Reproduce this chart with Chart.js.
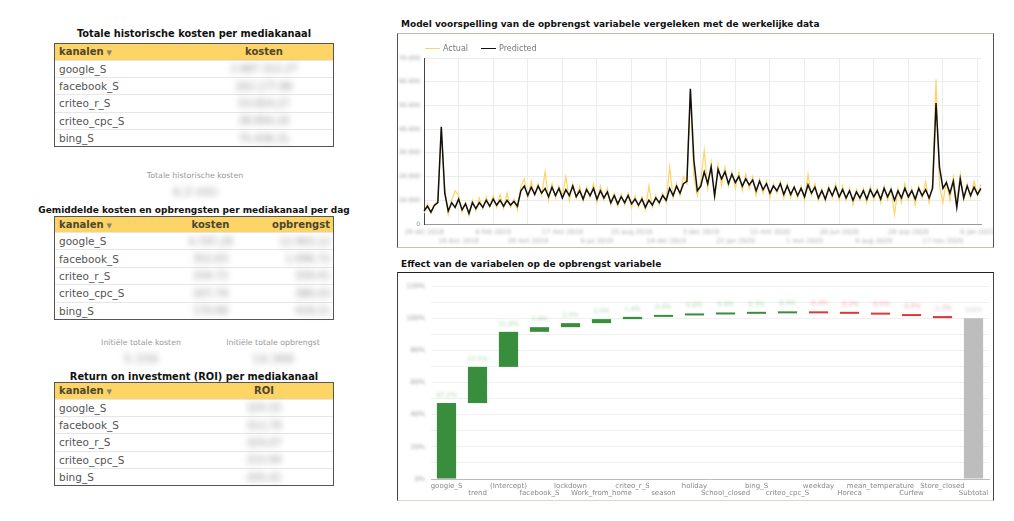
<!DOCTYPE html>
<html>
<head>
<meta charset="utf-8">
<script src="https://cdn.jsdelivr.net/npm/chart.js@4.4.0/dist/chart.umd.min.js"></script>
<style>
body { margin: 0; width: 1014px; height: 521px; background: #fff; position: relative; overflow: hidden; font-family: "DejaVu Sans", sans-serif; }
.title { position: absolute; height: 12px; line-height: 12px; font-size: 9px; font-weight: bold; color: #111; white-space: nowrap; }
.ctitle { left: 0; width: 388px; text-align: center; }
.big { font-size: 9.8px; }
.tbl { position: absolute; left: 54px; width: 280px; box-sizing: border-box; border: 1px solid #555; font-size: 10.5px; color: #555; }
.tbl .hd { display: flex; height: 15.5px; align-items: center; background: #fdd466; color: #4e4631; font-weight: bold; font-size: 10px; }
.tbl .rw { display: flex; height: 16.4px; align-items: center; border-top: 1px solid #e6e6e6; }
.tbl .cell { box-sizing: border-box; white-space: nowrap; }
.tbl .arr { font-size: 7px; color: #8a826a; margin-left: 3px; }
.blur { filter: blur(3px); color: #8c8c8c; font-size: 10px; }
.kpi { position: absolute; width: 160px; margin-left: -80px; text-align: center; white-space: nowrap; }
.kpi .lb { font-size: 7.8px; color: #999; height: 10px; line-height: 10px; }
.kpi .val { font-size: 12px; color: #999; filter: blur(3px); height: 16px; line-height: 16px; margin-top: 3px; }
.box { position: absolute; left: 397px; width: 597px; box-sizing: border-box; background: #fff; }
.wrap { position: relative; width: 100%; height: 100%; }
.legend { position: absolute; left: 425px; top: 44px; display: flex; gap: 13px; font-size: 8px; color: #777; line-height: 10px; }
.legend i { display: inline-block; width: 15px; height: 1.5px; margin-right: 3px; vertical-align: middle; }
</style>
</head>
<body>

<div class="title ctitle big" style="top:28px">Totale historische kosten per mediakanaal</div>
<div class="tbl" id="tbl1" style="top:43px"></div>
<div class="kpi" style="left:195px; top:171px"><div class="lb">Totale historische kosten</div><div class="val" id="kpiTotal"></div></div>

<div class="title ctitle" style="top:204px">Gemiddelde kosten en opbrengsten per mediakanaal per dag</div>
<div class="tbl" id="tbl2" style="top:215.5px"></div>
<div class="kpi" style="left:141px; top:338px"><div class="lb">Initiële totale kosten</div><div class="val" id="kpiCost"></div></div>
<div class="kpi" style="left:273px; top:338px"><div class="lb">Initiële totale opbrengst</div><div class="val" id="kpiRev"></div></div>

<div class="title ctitle big" style="top:371px">Return on investment (ROI) per mediakanaal</div>
<div class="tbl" id="tbl3" style="top:382px"></div>

<div class="title" style="left:401px; top:18px">Model voorspelling van de opbrengst variabele vergeleken met de werkelijke data</div>
<div class="box" style="top:33px; height:215px; border:1px solid #555; border-top-color:#c4bea8; border-bottom-color:#c9c2a6;">
  <div class="wrap"><canvas id="lineChart"></canvas></div>
</div>
<div class="legend" id="legend"></div>

<div class="title" style="left:401px; top:258px">Effect van de variabelen op de opbrengst variabele</div>
<div class="box" style="top:272px; height:229px; border:1px solid #444; border-top-color:#222; border-bottom-color:#ddd8c0;">
  <div class="wrap"><canvas id="effectChart"></canvas></div>
</div>

<script>
// left panel values (blurred in the dashboard)
const channels = ['google_S', 'facebook_S', 'criteo_r_S', 'criteo_cpc_S', 'bing_S']
const totalCosts = ['2.687.312,27', '263.177,86', '53.654,27', '38.856,16', '75.438,31']
const avgCosts = ['4.797,29', '352,63', '104,72', '207,79', '170,68']
const avgRevenue = ['12.993,12', '1.096,72', '339,41', '386,03', '418,21']
const roiValues = ['320,32', '312,79', '324,07', '222,94', '205,41']
const totalCostKpi = '4,3 mln'
const initialCostKpi = '5.334'
const initialRevenueKpi = '14.369'

// model prediction vs actual (revenue per period)
const actual = [4500, 8500, 4500, 8500, 9500, 40000, 15000, 4000,
    10000, 14000, 12000, 5000, 9000, 3500, 10000, 5500, 11000, 6500, 11500, 7000, 12000, 7000, 12500, 6500, 13000, 7000, 10500, 6000,
    16000, 19000, 11000, 18000, 12000, 17000, 12000, 22000, 10000, 17000, 11000, 16000, 12000, 20000, 10000, 17000, 11000, 16000, 9500, 15500, 11000, 17000, 9000, 16000, 10000, 15000,
    8000, 13000, 7500, 12500, 8000, 13000, 7000,
    12000, 7000, 11500, 6000, 16000, 7000, 12000, 8000,
    13000, 9000, 24000, 11000, 17000, 12000, 20000,
    17000, 56000, 20000, 12000, 18000,
    31000, 15000, 26000, 10000, 25000, 16000,
    24000, 16000, 22000, 15000, 22000, 14000, 21000, 15000, 20000, 12000, 19000, 13000, 18000, 11000, 17000, 13000, 18000, 11000, 17000, 11000, 16000,
    11000, 16000, 10000, 21000, 12000, 17000, 10000, 15000, 9500, 16000, 11000, 17000, 10000, 16000, 10000, 15000, 8000, 14500, 10000, 15000,
    9000, 16000, 10000, 15000, 9000, 16000, 10000, 15000, 4000, 15000, 9000, 17000, 10000, 15000, 8000, 16000, 11000, 18000, 9000, 17000,
    61000, 16000, 9000, 18000, 10000, 20000, 9000, 21000, 10000, 17000, 11000, 18000, 12000, 17000]
const predicted = [5500, 7500, 5000, 7800, 9000, 41000, 13000, 5500,
    9000, 7000, 10500, 6000, 8500, 4500, 9000, 6500, 9000, 7000, 10000, 7500, 10500, 8000, 10000, 7500, 10000, 8000, 9500, 7500,
    14000, 16000, 12000, 15500, 12500, 16000, 13000, 15000, 11500, 15500, 12000, 15000, 11000, 14500, 12000, 16000, 11500, 14000, 10500, 14500, 12000, 15000, 10500, 14000, 11000, 13500,
    9000, 12000, 8500, 11500, 9000, 12000, 8500,
    10500, 8000, 10500, 7000, 10000, 8000, 11000, 9000,
    12000, 10000, 15000, 12000, 16000, 13000, 17000,
    18000, 57000, 27000, 14000, 16000,
    22000, 17000, 24000, 12000, 23000, 19000,
    22000, 17000, 21000, 17500, 20000, 16000, 19000, 16500, 18500, 14000, 18000, 14500, 17000, 13000, 16000, 14000, 17000, 12500, 16000, 12500, 15500,
    12000, 15000, 11500, 16500, 13000, 15500, 11000, 14000, 10500, 15000, 12000, 15500, 11500, 14500, 11000, 14000, 10000, 13500, 11000, 14000,
    10500, 14500, 11500, 14000, 10500, 15000, 11500, 14500, 10000, 14000, 11000, 15000, 11500, 14000, 10500, 15000, 12000, 14500, 11000, 15000,
    51000, 24000, 15000, 17500, 13000, 18000, 7000, 19000, 11000, 16000, 12000, 15500, 12500, 15000]
const dateTicks = ['29 okt 2018', '18 dec 2018', '6 feb 2019', '28 mrt 2019', '17 mei 2019', '6 jul 2019', '25 aug 2019', '14 okt 2019', '3 dec 2019',
    '22 jan 2020', '12 mrt 2020', '1 mei 2020', '20 jun 2020', '9 aug 2020', '28 sep 2020', '17 nov 2020', '6 jan 2021']
const tickEvery = 10

// effect of each variable on revenue, in %
const variables = ['google_S', 'trend', '(Intercept)', 'facebook_S', 'lockdown', 'Work_from_home', 'criteo_r_S', 'season', 'holiday',
    'School_closed', 'bing_S', 'criteo_cpc_S', 'weekday', 'Horeca', 'mean_temperature', 'Curfew', 'Store_closed']
const effects = [47.2, 22.5, 21.8, 2.9, 2.5, 2.5, 1.4, 0.9, 0.6, 0.4, 0.3, 0.3, -0.3, -0.3, -0.5, -0.9, -1.3]

Chart.defaults.font.family = '"DejaVu Sans", sans-serif'

// ---------- tables ----------
const headCell = (text, w, align, pad) =>
    `<div class="cell" style="width:${w};text-align:${align};${pad}">${text}</div>`

function buildTable(id, heads, cols) {
    let html = '<div class="hd">' + heads.map(h => headCell(h.text, h.w, h.align, h.pad)).join('') + '</div>'
    channels.forEach((ch, r) => {
        html += '<div class="rw">'
        html += headCell(ch, heads[0].w, 'left', heads[0].pad)
        cols.forEach((col, c) => {
            const h = heads[c + 1]
            html += `<div class="cell blur" style="width:${h.w};text-align:${h.align};${h.pad}">${col[r]}</div>`
        })
        html += '</div>'
    })
    document.getElementById(id).innerHTML = html
}

const kanalen = 'kanalen<span class="arr">▼</span>'
buildTable('tbl1', [
    { text: kanalen, w: '150px', align: 'left', pad: 'padding-left:4px' },
    { text: 'kosten', w: '118px', align: 'center', pad: '' }
], [totalCosts])
buildTable('tbl2', [
    { text: kanalen, w: '115px', align: 'left', pad: 'padding-left:4px' },
    { text: 'kosten', w: '81px', align: 'center', pad: '' },
    { text: 'opbrengst', w: '82px', align: 'right', pad: 'padding-right:3px' }
], [avgCosts, avgRevenue])
buildTable('tbl3', [
    { text: kanalen, w: '150px', align: 'left', pad: 'padding-left:4px' },
    { text: 'ROI', w: '118px', align: 'center', pad: '' }
], [roiValues])

document.getElementById('kpiTotal').textContent = totalCostKpi
document.getElementById('kpiCost').textContent = initialCostKpi
document.getElementById('kpiRev').textContent = initialRevenueKpi

// ---------- blurred canvas labels ----------
const blurText = (id, items) => ({
    id: id,
    afterDraw(chart) {
        const ctx = chart.ctx
        ctx.save()
        ctx.textBaseline = 'middle'
        items(chart).forEach(it => {
            ctx.filter = it.sharp ? 'none' : `blur(${it.blur || 1.4}px)`
            ctx.font = it.font
            ctx.fillStyle = it.color
            ctx.textAlign = it.align
            ctx.fillText(it.text, it.x, it.y)
        })
        ctx.restore()
    }
})

// ---------- line chart ----------
const lineLabels = actual.map((v, i) => i)

const lineChart = new Chart(document.getElementById('lineChart'), {
    type: 'line',
    data: {
        labels: lineLabels,
        datasets: [{
            label: 'Actual',
            data: actual,
            borderColor: '#fdd463',
            backgroundColor: '#fdd463',
            borderWidth: 1.2,
            pointRadius: 0,
            order: 1
        }, {
            label: 'Predicted',
            data: predicted,
            borderColor: '#111111',
            backgroundColor: '#111111',
            borderWidth: 1.5,
            pointRadius: 0,
            order: 0
        }]
    },
    options: {
        animation: false,
        responsive: true,
        maintainAspectRatio: false,
        layout: { padding: { top: 24, right: 12, left: 0, bottom: 0 } },
        plugins: { legend: { display: false }, tooltip: { enabled: false } },
        scales: {
            x: {
                ticks: { display: false, autoSkip: false },
                grid: { color: c => (c.index % tickEvery === 0 ? '#ececec' : 'rgba(0,0,0,0)'), drawTicks: false },
                border: { color: '#999' },
                afterFit: s => { s.height = 23 }
            },
            y: {
                min: 0,
                max: 70000,
                ticks: { display: false, stepSize: 10000 },
                grid: { color: '#ececec', drawTicks: false },
                border: { color: '#444' },
                afterFit: s => { s.width = 26 }
            }
        }
    },
    plugins: [blurText('lineLabels', chart => {
        const xs = chart.scales.x
        const ys = chart.scales.y
        const out = []
        ys.ticks.forEach(t => {
            out.push({
                text: t.value === 0 ? '0' : t.value.toLocaleString('nl-NL'),
                x: ys.right - 4, y: ys.getPixelForValue(t.value),
                align: 'right', font: '6px "DejaVu Sans"', color: '#999', sharp: t.value === 0, blur: 1.8
            })
        })
        dateTicks.forEach((d, k) => {
            out.push({
                text: d,
                x: xs.getPixelForValue(k * tickEvery), y: xs.top + 8 + (k % 2) * 9,
                align: 'center', font: '6.5px "DejaVu Sans"', color: '#aaa', blur: 1.8
            })
        })
        return out
    })]
})

document.getElementById('legend').innerHTML = lineChart.data.datasets
    .map(d => `<span><i style="background:${d.borderColor}"></i>${d.label}</span>`).join('')

// ---------- waterfall chart ----------
const bars = []
let running = 0
effects.forEach(v => {
    bars.push([running, running + v])
    running += v
})
bars.push([0, running])
const barLabels = variables.concat(['Subtotal'])
const barColors = effects.map(v => (v >= 0 ? '#388e3c' : '#d93a3a')).concat(['#bdbdbd'])
const tagColors = effects.map(v => (v >= 0 ? 'rgba(100,180,100,0.55)' : 'rgba(225,80,80,0.5)')).concat(['rgba(150,150,150,0.45)'])

new Chart(document.getElementById('effectChart'), {
    type: 'bar',
    data: {
        labels: barLabels,
        datasets: [{
            data: bars,
            backgroundColor: barColors,
            barPercentage: 0.62,
            categoryPercentage: 1,
            minBarLength: 2
        }]
    },
    options: {
        animation: false,
        responsive: true,
        maintainAspectRatio: false,
        layout: { padding: { top: 13, right: 4, left: 0, bottom: 0 } },
        plugins: { legend: { display: false }, tooltip: { enabled: false } },
        scales: {
            x: {
                grid: { display: false, drawTicks: false },
                border: { color: '#bbb' },
                ticks: {
                    autoSkip: false,
                    maxRotation: 0,
                    minRotation: 0,
                    padding: 3,
                    color: '#888',
                    font: { size: 7, lineHeight: 1.1 },
                    callback: function (val, i) {
                        const l = this.getLabelForValue(val)
                        return i % 2 ? ['', l] : l
                    }
                },
                afterFit: s => { s.height = 21 }
            },
            y: {
                min: 0,
                max: 120,
                ticks: { display: false, stepSize: 10 },
                grid: { color: '#efefef', drawTicks: false },
                border: { display: false },
                afterFit: s => { s.width = 33 }
            }
        }
    },
    plugins: [blurText('effectLabels', chart => {
        const ys = chart.scales.y
        const out = []
        ys.ticks.forEach(t => {
            if (t.value % 20 !== 0) return
            out.push({
                text: t.value + '%', x: ys.right - 6, y: ys.getPixelForValue(t.value),
                align: 'right', font: '6.5px "DejaVu Sans"', color: '#999', blur: 1.8
            })
        })
        chart.getDatasetMeta(0).data.forEach((el, i) => {
            const v = i < effects.length ? effects[i] : running
            out.push({
                text: (Math.round(v * 10) / 10).toLocaleString('nl-NL') + '%',
                x: el.x, y: Math.min(el.y, el.base) - 8,
                align: 'center', font: '6.5px "DejaVu Sans"', color: tagColors[i], blur: 1.4
            })
        })
        return out
    })]
})
</script>
</body>
</html>
